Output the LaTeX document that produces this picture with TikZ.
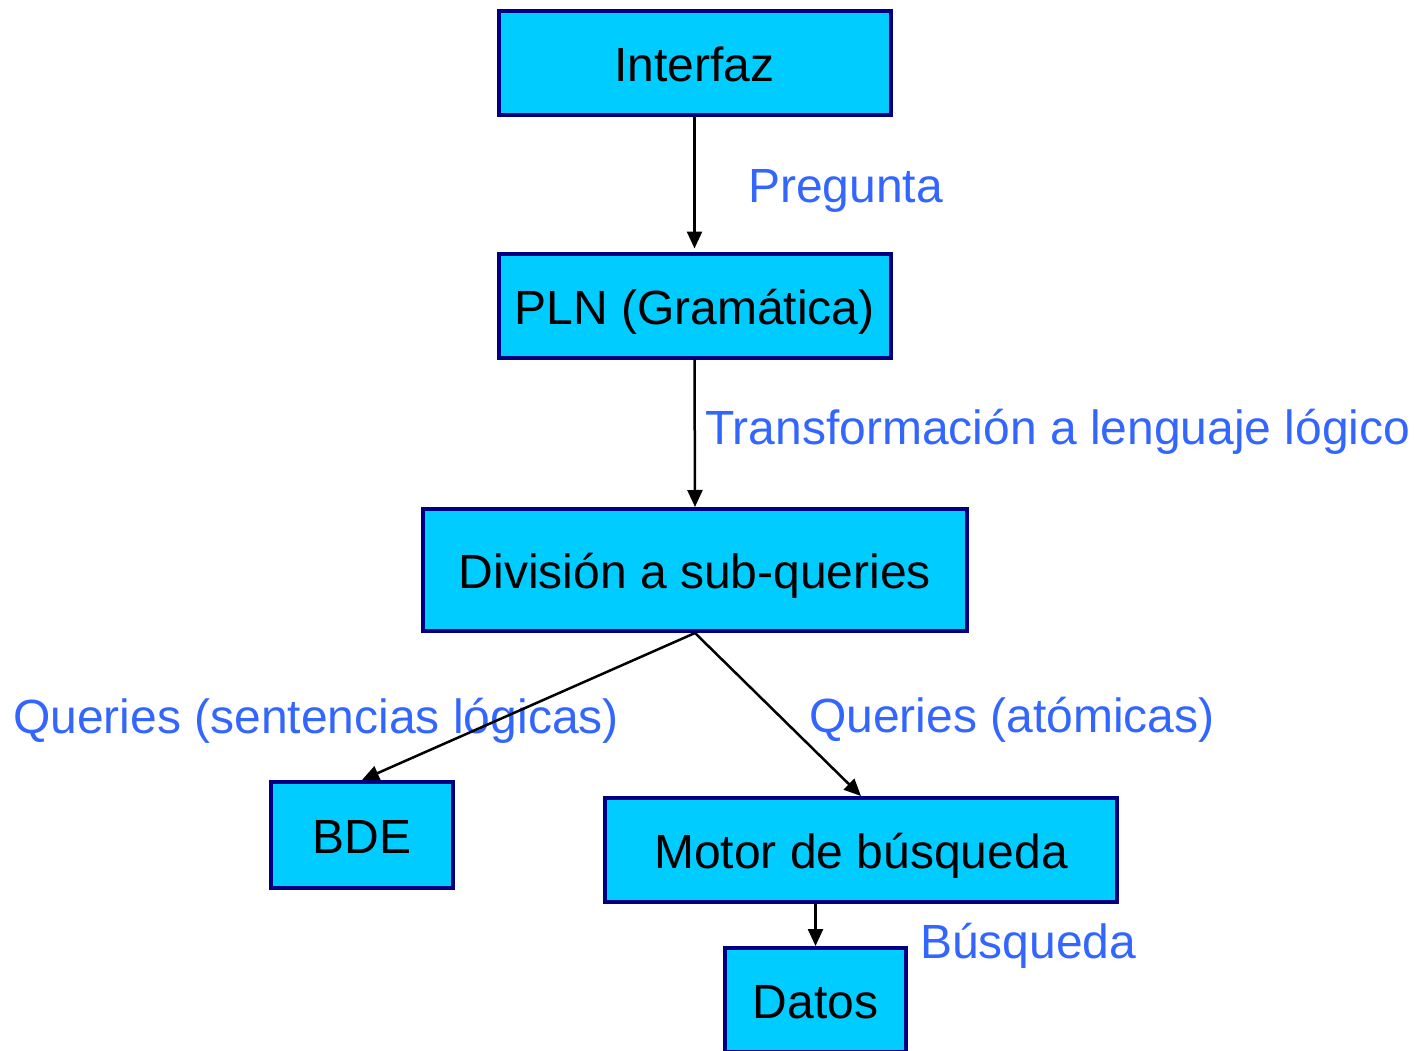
\documentclass[tikz,border=0pt]{standalone}
\usepackage{fontspec}
\setmainfont{Liberation Sans}
\usetikzlibrary{arrows.meta}
\definecolor{boxfill}{HTML}{00CCFF}
\definecolor{boxline}{HTML}{000080}
\definecolor{lblblue}{HTML}{3366FF}
\tikzset{
  box/.style={draw=boxline, fill=boxfill, line width=4pt, inner sep=0pt,
    text height=37pt, text depth=0pt, font=\fontsize{48}{56}\selectfont},
  lbl/.style={anchor=base west, inner sep=0pt, text=lblblue,
    font=\fontsize{48}{56}\selectfont},
  conn/.style={line width=2.5pt, -{Triangle[length=17pt,width=15pt]}}
}
\begin{document}
\begin{tikzpicture}[x=1pt,y=-1pt]
\useasboundingbox (0,0) rectangle (1418,1051);
\node[box, minimum width=392pt, minimum height=104pt] (interfaz) at (694.5,63.5) {Interfaz};
\node[box, minimum width=392pt, minimum height=104pt] (pln) at (694.5,305.5) {PLN (Gramática)};
\node[box, minimum width=544pt, minimum height=122pt] (div) at (695,570) {División a sub-queries};
\node[box, minimum width=182pt, minimum height=106pt] (bde) at (362,835) {BDE};
\node[box, minimum width=512pt, minimum height=104pt] (motor) at (861,850) {Motor de búsqueda};
\node[box, minimum width=181pt, minimum height=104pt] (datos) at (815.5,1000) {Datos};

\node[lbl] (l1) at (748,202) {Pregunta};
\node[lbl] (l2) at (705,444) {Transformación a lenguaje lógico};
\node[lbl] (l3) at (13,733) {Queries (sentencias lógicas)};
\node[lbl] (l4) at (809,732) {Queries (atómicas)};
\node[lbl] (l5) at (920,958) {Búsqueda};

\draw[conn, shorten >=3pt] (interfaz.south) -- (pln.north);
\draw[conn] (pln.south) -- (div.north);
\draw[conn] (div.south) -- (bde.north);
\draw[conn] (div.south) -- (motor.north);
\draw[conn] (motor.south -| datos.north) -- (datos.north);
\end{tikzpicture}
\end{document}
